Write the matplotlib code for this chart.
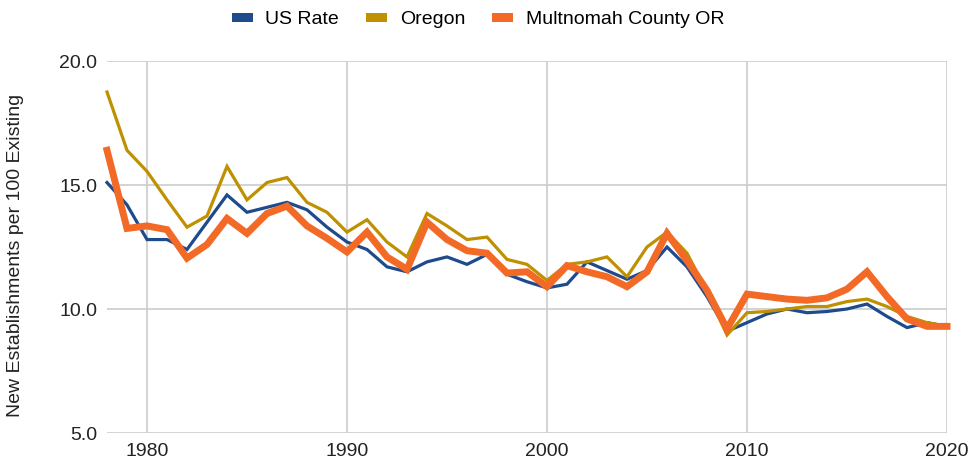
import matplotlib.pyplot as plt
from matplotlib.patches import Patch

plt.rcParams['font.family'] = ['Liberation Sans', 'DejaVu Sans']

years = list(range(1978, 2021))

us_rate = [15.1, 14.2, 12.8, 12.8, 12.4, 13.5, 14.6, 13.9, 14.1, 14.3,
           14.0, 13.3, 12.7, 12.4, 11.7, 11.5, 11.9, 12.1, 11.8, 12.2,
           11.4, 11.1, 10.85, 11.0, 11.9, 11.55, 11.2, 11.55, 12.5, 11.7,
           10.5, 9.1, 9.45, 9.8, 10.0, 9.85, 9.9, 10.0, 10.2, 9.7,
           9.25, 9.45, 9.3]

oregon = [18.75, 16.4, 15.55, 14.4, 13.3, 13.75, 15.75, 14.4, 15.1, 15.3,
          14.3, 13.9, 13.1, 13.6, 12.7, 12.1, 13.85, 13.35, 12.8, 12.9,
          12.0, 11.8, 11.15, 11.8, 11.9, 12.1, 11.3, 12.5, 13.1, 12.25,
          10.7, 8.95, 9.85, 9.9, 10.0, 10.1, 10.1, 10.3, 10.4, 10.1,
          9.7, 9.45, 9.3]

multnomah = [16.4, 13.25, 13.35, 13.2, 12.05, 12.6, 13.65, 13.05, 13.85, 14.15,
             13.35, 12.85, 12.3, 13.1, 12.1, 11.6, 13.5, 12.8, 12.35, 12.25,
             11.45, 11.5, 10.9, 11.75, 11.5, 11.3, 10.9, 11.5, 13.05, 11.95,
             10.75, 9.2, 10.6, 10.5, 10.4, 10.35, 10.45, 10.8, 11.5, 10.5,
             9.6, 9.3, 9.3]

series_names = ['US Rate', 'Oregon', 'Multnomah County OR']
colors = ['#1f4a8c', '#bf9000', '#f26a25']
widths = [2.3, 2.3, 5.0]

fig = plt.figure(figsize=(9.68, 4.63), dpi=100)
ax = fig.add_axes([107 / 968, 1 - 433 / 463, (947 - 107) / 968, (433 - 61) / 463])

for vals, c, w in zip([us_rate, oregon, multnomah], colors, widths):
    ax.plot(years, vals, color=c, linewidth=w, solid_joinstyle='miter', clip_on=False)

ax.set_xlim(1978, 2020)
ax.set_ylim(5, 20)
ax.set_xticks([1980, 1990, 2000, 2010, 2020])
ax.set_yticks([5, 10, 15, 20])
ax.set_yticklabels(['5.0', '10.0', '15.0', '20.0'])
ax.grid(True, color='#cccccc', linewidth=1.2)
ax.set_axisbelow(True)
for s in ax.spines.values():
    s.set_visible(False)
ax.tick_params(axis='both', length=0, labelsize=14, colors='#222222')
ax.tick_params(axis='y', pad=7)
ax.tick_params(axis='x', pad=7)
ax.set_ylabel('New Establishments per 100 Existing', fontsize=14, color='#222222')
ax.yaxis.set_label_coords(-83 / 840, 0.476)

handles = [Patch(facecolor=c, edgecolor='none') for c in colors]
fig.legend(handles, series_names, loc='center', bbox_to_anchor=(478 / 968, 1 - 20 / 463),
           ncol=3, frameon=False, fontsize=14, handlelength=1.08, handleheight=0.4,
           columnspacing=1.4, handletextpad=0.65, borderpad=0)

fig.savefig('out.png', dpi=100)
